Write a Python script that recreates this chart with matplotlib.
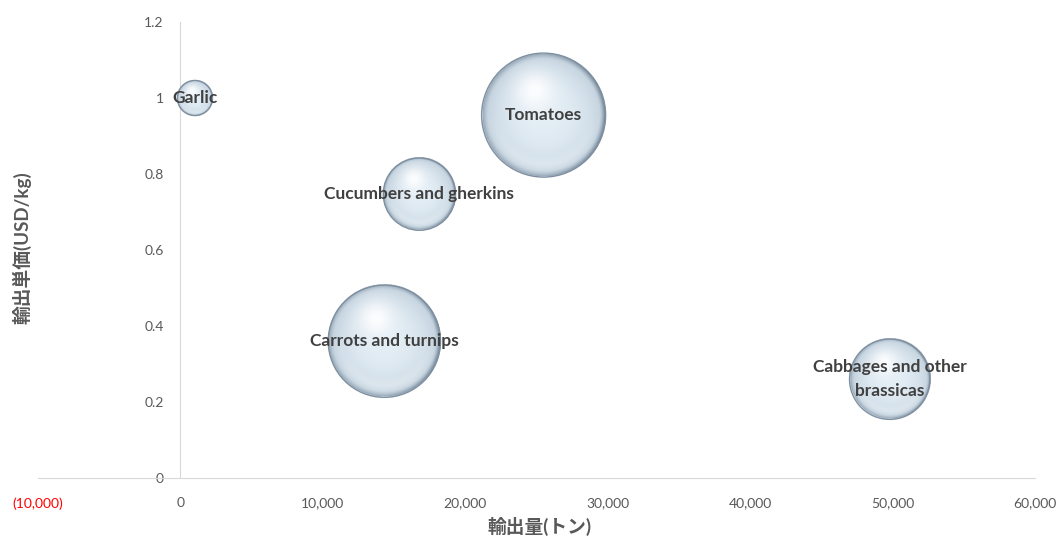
import numpy as np
import matplotlib.pyplot as plt
from matplotlib.patches import Ellipse
from matplotlib.ticker import FuncFormatter

plt.rcParams['font.family'] = ['Lato', 'Noto Sans CJK JP', 'DejaVu Sans']

# export volume (t), unit price (USD/kg), relative bubble size
products = ["Garlic", "Tomatoes", "Cucumbers and gherkins",
            "Carrots and turnips", "Cabbages and other\nbrassicas"]
volume = [1020, 25500, 16780, 14320, 49800]
unit_price = [1.0, 0.955, 0.747, 0.36, 0.26]
bubble_size = [8, 100, 34, 82, 42]

xticks = [-10000, 0, 10000, 20000, 30000, 40000, 50000, 60000]
yticks = [0, 0.2, 0.4, 0.6, 0.8, 1.0, 1.2]

W, H, DPI = 1059, 536, 100
fig = plt.figure(figsize=(W / DPI, H / DPI), dpi=DPI)
left, right, bottom, top = 38, 1035, 478, 22
ax = fig.add_axes([left / W, 1 - bottom / H, (right - left) / W, (bottom - top) / H])
ax.set_xlim(-10000, 60000)
ax.set_ylim(0, 1.2)

# pixels per data unit, used to keep bubbles round
px_x = (right - left) / 70000
px_y = (bottom - top) / 1.2
max_r = 62


def sphere_image(n=200):
    u = np.linspace(-1, 1, n)
    uu, vv = np.meshgrid(u, -u)
    d = np.sqrt(uu ** 2 + vv ** 2)
    body = np.array([0.89, 0.93, 0.96])
    edge = np.array([0.75, 0.81, 0.86])
    t = np.clip(d, 0, 1) ** 2.5
    img = body * (1 - t[..., None]) + edge * t[..., None]
    # soft highlight towards the top left
    hl = np.exp(-((uu + 0.15) ** 2 + (vv - 0.4) ** 2) / 0.10)
    img = img * (1 - hl[..., None] * 0.9) + hl[..., None] * 0.9
    # faint reflection near the bottom
    refl = np.exp(-((d - 0.8) ** 2) / 0.01) * np.clip(-vv, 0, 1)
    img = img * (1 - 0.35 * refl[..., None]) + 0.35 * refl[..., None]
    # darker rim, heavier on the right side
    rim = np.clip((d - 0.9) / 0.1, 0, 1) ** 1.5 * (0.5 + 0.5 * np.clip(uu, 0, 1))
    dark = np.array([0.40, 0.47, 0.54])
    img = img * (1 - rim[..., None]) + dark * rim[..., None]
    alpha = (d <= 1).astype(float)
    return np.dstack([img, alpha])


sphere = sphere_image()
order = np.argsort(bubble_size)[::-1]
for i in order:
    r = max_r * np.sqrt(bubble_size[i] / max(bubble_size))
    rx, ry = r / px_x, r / px_y
    x, y = volume[i], unit_price[i]
    ax.imshow(sphere, extent=[x - rx, x + rx, y - ry, y + ry],
              aspect='auto', interpolation='bilinear', zorder=3)
    ax.add_patch(Ellipse((x, y), 2 * rx, 2 * ry, fill=False,
                         edgecolor='#7d8fa0', lw=1.0, zorder=4))

for i in range(len(products)):
    ax.text(volume[i], unit_price[i], products[i], ha='center', va='center',
            fontsize=12.5, fontweight='bold', color='#404040',
            linespacing=1.6, zorder=5)

ax.set_xlim(-10000, 60000)
ax.set_ylim(0, 1.2)

for s in ['top', 'right']:
    ax.spines[s].set_visible(False)
ax.spines['left'].set_position(('data', 0))
ax.spines['left'].set_color('#d9d9d9')
ax.spines['bottom'].set_color('#d9d9d9')
ax.spines['left'].set_zorder(1)

ax.set_xticks(xticks)
ax.set_yticks(yticks)
ax.xaxis.set_major_formatter(FuncFormatter(
    lambda v, p: f"({abs(v):,.0f})" if v < 0 else f"{v:,.0f}"))
ax.yaxis.set_major_formatter(FuncFormatter(lambda v, p: f"{v:g}"))
ax.tick_params(axis='both', length=0, labelsize=10, colors='#595959')
ax.tick_params(axis='x', pad=14)
ax.tick_params(axis='y', pad=12)
for lab, v in zip(ax.get_xticklabels(), xticks):
    if v < 0:
        lab.set_color('red')

fig.text(22 / W, 1 - 248 / H, "輸出単価(USD/kg)", rotation=90, ha='center',
         va='center', fontsize=13.5, fontweight='bold', color='#595959')
fig.text(540 / W, 1 - 526 / H, "輸出量(トン)", ha='center', va='center',
         fontsize=13.5, fontweight='bold', color='#595959')

fig.savefig("out.png", dpi=DPI)
